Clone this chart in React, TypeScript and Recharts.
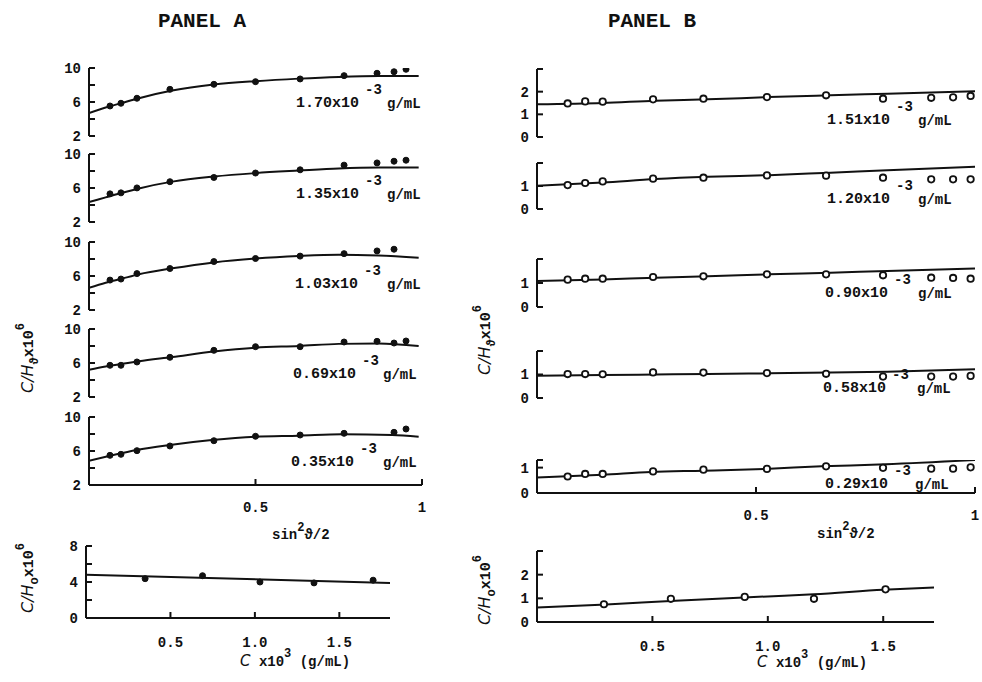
import React from 'react';
import { ComposedChart, Line, Scatter, XAxis, YAxis } from 'recharts';

const FONT = '"Liberation Mono", "DejaVu Sans Mono", monospace';
const INK = '#111';
const WEIGHT = 700;

// ---------- PANEL A : C/H_theta vs sin^2(theta/2) ----------
const A_SIN = [0.063, 0.096, 0.144, 0.243, 0.375, 0.5, 0.634, 0.766, 0.865, 0.916, 0.952];
const A3_SIN = [0.063, 0.096, 0.144, 0.243, 0.375, 0.5, 0.634, 0.766, 0.865, 0.916];
const A5_SIN = [0.063, 0.096, 0.144, 0.243, 0.375, 0.5, 0.634, 0.766, 0.916, 0.952];
const A_FIT_SIN = [0, 0.05, 0.1, 0.15, 0.25, 0.375, 0.5, 0.63, 0.75, 0.87, 0.99];
const A5_FIT_SIN = [0, 0.06, 0.143, 0.243, 0.369, 0.5, 0.63, 0.759, 0.91, 0.99];

const A1_PTS = [5.53, 5.85, 6.44, 7.49, 8.08, 8.39, 8.71, 9.1, 9.38, 9.56, 9.85];
const A1_FIT = [4.7, 5.35, 5.9, 6.45, 7.35, 8.05, 8.45, 8.75, 8.95, 9.05, 9.05];
const A2_PTS = [5.31, 5.43, 6.01, 6.74, 7.24, 7.76, 8.14, 8.69, 8.95, 9.15, 9.27];
const A2_FIT = [4.35, 4.9, 5.45, 5.95, 6.75, 7.35, 7.75, 8.05, 8.3, 8.4, 8.4];
const A3_PTS = [5.52, 5.64, 6.28, 6.88, 7.7, 8.06, 8.34, 8.63, 8.95, 9.15];
const A3_FIT = [4.6, 5.2, 5.7, 6.2, 6.9, 7.6, 8.05, 8.35, 8.5, 8.4, 8.15];
const A4_PTS = [5.73, 5.73, 6.12, 6.67, 7.49, 7.92, 7.92, 8.47, 8.55, 8.35, 8.59];
const A4_FIT = [5.2, 5.6, 5.9, 6.2, 6.7, 7.35, 7.8, 8.0, 8.25, 8.3, 8.0];
const A5_PTS = [5.49, 5.61, 6.04, 6.59, 7.21, 7.73, 7.88, 8.08, 8.2, 8.59];
const A5_FIT = [4.86, 5.41, 6.12, 6.71, 7.29, 7.68, 7.8, 7.96, 7.88, 7.68];

const A_CONC = ['1.70', '1.35', '1.03', '0.69', '0.35'];

// Panel A bottom: C/H_0 vs C
const A0_C = [0.35, 0.69, 1.03, 1.35, 1.7];
const A0_PTS = [4.37, 4.7, 4.0, 3.9, 4.2];
const A0_FIT_C = [0, 1.8];
const A0_FIT = [4.8, 3.9];

// ---------- PANEL B ----------
const B_SIN = [0.07, 0.11, 0.15, 0.265, 0.38, 0.525, 0.66, 0.79, 0.9, 0.95, 0.99];
const B_FIT_SIN = [0, 0.15, 0.27, 0.39, 0.53, 0.67, 0.8, 1.0];
const B5_FIT_SIN = [0, 0.15, 0.26, 0.38, 0.52, 0.65, 0.78, 1.0];

const B1_PTS = [1.48, 1.57, 1.56, 1.66, 1.69, 1.76, 1.84, 1.69, 1.73, 1.75, 1.81];
const B1_FIT = [1.44, 1.5, 1.6, 1.66, 1.76, 1.84, 1.91, 2.02];
const B2_PTS = [1.04, 1.13, 1.2, 1.32, 1.36, 1.46, 1.45, 1.36, 1.29, 1.29, 1.29];
const B2_FIT = [1.01, 1.15, 1.3, 1.4, 1.47, 1.58, 1.68, 1.84];
const B3_PTS = [1.14, 1.18, 1.18, 1.25, 1.28, 1.36, 1.36, 1.32, 1.22, 1.21, 1.18];
const B3_FIT = [1.08, 1.15, 1.22, 1.28, 1.36, 1.43, 1.5, 1.6];
const B4_PTS = [1.02, 1.02, 1.01, 1.09, 1.08, 1.06, 1.03, 0.91, 0.91, 0.91, 0.94];
const B4_FIT = [0.95, 0.98, 1.0, 1.02, 1.05, 1.08, 1.12, 1.22];
const B5_PTS = [0.65, 0.75, 0.75, 0.85, 0.92, 0.95, 1.05, 0.99, 0.96, 0.96, 1.01];
const B5_FIT = [0.61, 0.72, 0.83, 0.88, 0.95, 1.05, 1.12, 1.3];

const B_CONC = ['1.51', '1.20', '0.90', '0.58', '0.29'];

const B0_C = [0.29, 0.58, 0.9, 1.2, 1.51];
const B0_PTS = [0.75, 0.98, 1.06, 0.98, 1.38];
const B0_FIT_C = [0, 0.3, 0.6, 1.0, 1.2, 1.5, 1.72];
const B0_FIT = [0.61, 0.74, 0.9, 1.08, 1.17, 1.36, 1.46];

const zip = (xs: number[], ys: number[]) => xs.map((x, i) => ({ x, y: ys[i] }));

type Cfg = {
  left: number; top: number; w: number; h: number;
  xDomain: [number, number]; yDomain: [number, number];
  yTicks: number[]; yLabels: number[];
  xAxis?: boolean; xTicks?: number[]; xFmt?: (v: number) => string; xMargin?: number;
  pts: { x: number; y: number }[]; fit: { x: number; y: number }[];
  hollow: boolean;
};

const has = (arr: number[], v: number) => arr.some((a) => Math.abs(a - v) < 1e-9);

function Sub({ c }: { c: Cfg }) {
  const ML = 50, MT = 8, MR = 12;
  const XH = c.xAxis ? 44 : 0;
  const MB = c.xAxis ? 0 : 8;
  const W = c.w + ML + MR;
  const H = c.h + MT + MB + XH;
  const yTick = (p: any) => {
    const v = p.payload.value;
    if (!has(c.yLabels, v)) return <g />;
    return (
      <text x={p.x} y={p.y} dy="0.35em" textAnchor="end" fontFamily={FONT} fontWeight={WEIGHT} fontSize={14} fill={INK}>
        {String(v)}
      </text>
    );
  };
  const xTick = (p: any) => {
    const v = p.payload.value;
    return (
      <text x={p.x} y={p.y} dy="0.35em" textAnchor="middle" fontFamily={FONT} fontWeight={WEIGHT} fontSize={14} fill={INK}>
        {c.xFmt ? c.xFmt(v) : String(v)}
      </text>
    );
  };
  const dot = (p: any) => (
    <circle
      cx={p.cx}
      cy={p.cy}
      r={c.hollow ? 3.2 : 3}
      fill={c.hollow ? '#fff' : INK}
      stroke={INK}
      strokeWidth={c.hollow ? 1.8 : 1}
    />
  );
  return (
    <div style={{ position: 'absolute', left: c.left - ML, top: c.top - MT, width: W, height: H }}>
      <ComposedChart width={W} height={H} margin={{ top: MT, right: MR, bottom: MB, left: 0 }}>
        <XAxis
          type="number"
          dataKey="x"
          domain={c.xDomain}
          ticks={c.xTicks || []}
          hide={!c.xAxis}
          height={XH || 30}
          allowDataOverflow
          interval={0}
          axisLine={{ stroke: INK, strokeWidth: 2 }}
          tickLine={{ stroke: INK, strokeWidth: 2 }}
          tickSize={-6}
          tickMargin={c.xMargin ?? 28}
          tick={xTick}
        />
        <YAxis
          type="number"
          dataKey="y"
          domain={c.yDomain}
          ticks={c.yTicks}
          width={ML}
          allowDataOverflow
          interval={0}
          axisLine={{ stroke: INK, strokeWidth: 2 }}
          tickLine={{ stroke: INK, strokeWidth: 2 }}
          tickSize={-6}
          tickMargin={14}
          tick={yTick}
        />
        <Line
          data={c.fit}
          dataKey="y"
          type="monotone"
          stroke={INK}
          strokeWidth={2}
          dot={false}
          activeDot={false}
          isAnimationActive={false}
        />
        <Scatter data={c.pts} shape={dot} isAnimationActive={false} />
      </ComposedChart>
    </div>
  );
}

const A_TOPS = [68, 154, 242, 329, 417];
const A_SERIES = [
  { s: A_SIN, p: A1_PTS, fs: A_FIT_SIN, f: A1_FIT },
  { s: A_SIN, p: A2_PTS, fs: A_FIT_SIN, f: A2_FIT },
  { s: A3_SIN, p: A3_PTS, fs: A_FIT_SIN, f: A3_FIT },
  { s: A_SIN, p: A4_PTS, fs: A_FIT_SIN, f: A4_FIT },
  { s: A5_SIN, p: A5_PTS, fs: A5_FIT_SIN, f: A5_FIT },
];
const A_CFG: Cfg[] = A_SERIES.map((d, i) => ({
  left: 89, top: A_TOPS[i], w: 333, h: 68,
  xDomain: [0, 1], yDomain: [2, 10],
  yTicks: [2, 4, 6, 8, 10], yLabels: [2, 6, 10],
  xAxis: i === 4, xTicks: [0.5, 1],
  pts: zip(d.s, d.p), fit: zip(d.fs, d.f), hollow: false,
}));
const A0_CFG: Cfg = {
  left: 86, top: 546, w: 304, h: 72,
  xDomain: [0, 1.8], yDomain: [0, 8],
  yTicks: [0, 2, 4, 6, 8], yLabels: [0, 4, 8],
  xAxis: true, xTicks: [0.5, 1, 1.5], xFmt: (v) => v.toFixed(1), xMargin: 30,
  pts: zip(A0_C, A0_PTS), fit: zip(A0_FIT_C, A0_FIT), hollow: false,
};

const B_GEOM = [
  { top: 69, h: 68, d: [0, 3] as [number, number], t: [0, 1, 2, 3], l: [0, 1, 2] },
  { top: 163, h: 46, d: [0, 2] as [number, number], t: [0, 1, 2], l: [0, 1] },
  { top: 259, h: 48, d: [0, 2] as [number, number], t: [0, 1, 2], l: [0, 1] },
  { top: 351, h: 47, d: [0, 2] as [number, number], t: [0, 1, 2], l: [0, 1] },
  { top: 460, h: 33, d: [0, 1.3] as [number, number], t: [0, 1, 1.3], l: [0, 1] },
];
const B_SERIES = [
  { p: B1_PTS, fs: B_FIT_SIN, f: B1_FIT },
  { p: B2_PTS, fs: B_FIT_SIN, f: B2_FIT },
  { p: B3_PTS, fs: B_FIT_SIN, f: B3_FIT },
  { p: B4_PTS, fs: B_FIT_SIN, f: B4_FIT },
  { p: B5_PTS, fs: B5_FIT_SIN, f: B5_FIT },
];
const B_CFG: Cfg[] = B_SERIES.map((d, i) => ({
  left: 537, top: B_GEOM[i].top, w: 438, h: B_GEOM[i].h,
  xDomain: [0, 1], yDomain: B_GEOM[i].d,
  yTicks: B_GEOM[i].t, yLabels: B_GEOM[i].l,
  xAxis: i === 4, xTicks: [0.5, 1],
  pts: zip(B_SIN, d.p), fit: zip(d.fs, d.f), hollow: true,
}));
const B0_CFG: Cfg = {
  left: 537, top: 551, w: 397, h: 71,
  xDomain: [0, 1.72], yDomain: [0, 3],
  yTicks: [0, 1, 2, 3], yLabels: [0, 1, 2],
  xAxis: true, xTicks: [0.5, 1, 1.5], xFmt: (v) => v.toFixed(1), xMargin: 30,
  pts: zip(B0_C, B0_PTS), fit: zip(B0_FIT_C, B0_FIT), hollow: true,
};

// annotation positions (text start x, baseline y)
const A_ANN = [
  { x: 296, y: 107, g: 387 },
  { x: 296, y: 198, g: 387 },
  { x: 295, y: 288, g: 387 },
  { x: 293, y: 378, g: 383 },
  { x: 291, y: 466, g: 383 },
];
const B_ANN = [
  { x: 827, y: 124, g: 918 },
  { x: 827, y: 203, g: 918 },
  { x: 825, y: 297, g: 918 },
  { x: 823, y: 392, g: 917 },
  { x: 825, y: 488, g: 915 },
];

function Ann({ x, y, g, conc }: { x: number; y: number; g: number; conc: string }) {
  return (
    <g fontFamily={FONT} fontWeight={WEIGHT} fill={INK}>
      <text x={x} y={y} fontSize={15}>{conc + 'x10'}</text>
      <text x={x + 69} y={y - 13} fontSize={14}>-3</text>
      <text x={g} y={y + 1} fontSize={14}>g/mL</text>
    </g>
  );
}

function YLab({ cx, cy, sub }: { cx: number; cy: number; sub: string }) {
  return (
    <text transform={`translate(${cx},${cy}) rotate(-90)`} textAnchor="middle" fontFamily={FONT} fontWeight={WEIGHT} fontSize={15} fill={INK}>
      <tspan fontStyle="italic" fontWeight={400} fontFamily='"DejaVu Sans", sans-serif' fontSize={16}>C/H</tspan>
      <tspan dy={5} fontSize={12}>{sub}</tspan>
      <tspan dy={-5}>x10</tspan>
      <tspan dy={-9} fontSize={12}>6</tspan>
    </text>
  );
}

function SinLab({ x, y }: { x: number; y: number }) {
  return (
    <text x={x} y={y} fontFamily={FONT} fontWeight={WEIGHT} fontSize={14} fill={INK}>
      sin<tspan dy={-8} fontSize={12}>2</tspan>
      <tspan dy={8}>ϑ/2</tspan>
    </text>
  );
}

function CLab({ x, y }: { x: number; y: number }) {
  return (
    <text x={x} y={y} fontFamily={FONT} fontWeight={WEIGHT} fontSize={14} fill={INK}>
      <tspan fontStyle="italic" fontWeight={400} fontFamily='"DejaVu Sans", sans-serif' fontSize={15}>C</tspan>
      <tspan> x10</tspan>
      <tspan dy={-9} fontSize={12}>3</tspan>
      <tspan dy={9}> (g/mL)</tspan>
    </text>
  );
}

export default function App() {
  return (
    <div style={{ position: 'absolute', left: 0, top: 0, width: 982, height: 682, background: '#fff', overflow: 'hidden' }}>
      {A_CFG.map((c, i) => <Sub key={'a' + i} c={c} />)}
      <Sub c={A0_CFG} />
      {B_CFG.map((c, i) => <Sub key={'b' + i} c={c} />)}
      <Sub c={B0_CFG} />
      <svg width={982} height={682} style={{ position: 'absolute', left: 0, top: 0, pointerEvents: 'none' }}>
        <text x={202} y={27} textAnchor="middle" fontFamily={FONT} fontWeight={WEIGHT} fontSize={21} fill={INK}>PANEL A</text>
        <text x={652} y={27} textAnchor="middle" fontFamily={FONT} fontWeight={WEIGHT} fontSize={21} fill={INK}>PANEL B</text>
        {A_ANN.map((a, i) => <Ann key={'aa' + i} {...a} conc={A_CONC[i]} />)}
        {B_ANN.map((a, i) => <Ann key={'ba' + i} {...a} conc={B_CONC[i]} />)}
        <YLab cx={33} cy={358} sub="ϑ" />
        <YLab cx={33} cy={578} sub="o" />
        <YLab cx={490} cy={340} sub="ϑ" />
        <YLab cx={490} cy={590} sub="o" />
        <SinLab x={272} y={539} />
        <SinLab x={817} y={538} />
        <CLab x={240} y={666} />
        <CLab x={757} y={667} />
      </svg>
    </div>
  );
}
